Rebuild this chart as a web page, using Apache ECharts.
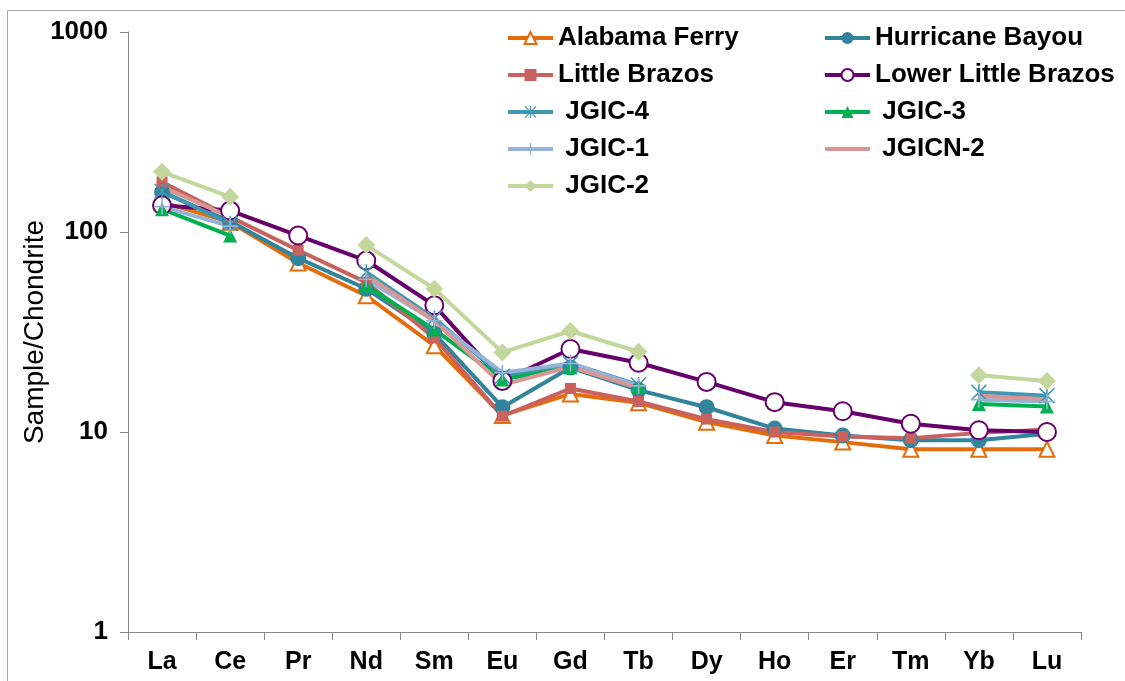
<!DOCTYPE html>
<html>
<head>
<meta charset="utf-8">
<script src="https://cdn.jsdelivr.net/npm/echarts@6/dist/echarts.min.js"></script>
<style>
html,body{margin:0;padding:0;background:#fff;}
#chart{width:1125px;height:681px;}
</style>
</head>
<body>
<div id="chart"></div>
<script>
const categories = ['La','Ce','Pr','Nd','Sm','Eu','Gd','Tb','Dy','Ho','Er','Tm','Yb','Lu'];
const yTicks = [1, 10, 100, 1000];

const alabamaFerry      = [141, 112, 70, 48, 27, 12.1, 15.5, 14.0, 11.2, 9.6, 8.9, 8.2, 8.2, 8.2];
const hurricaneBayou    = [158, 113, 74, 52, 31, 13.3, 21, 16.2, 13.3, 10.4, 9.6, 9.1, 9.1, 9.8];
const littleBrazos      = [178, 119, 81, 56, 29.5, 12.0, 16.5, 14.2, 11.6, 10.0, 9.5, 9.3, 9.9, 10.3];
const lowerLittleBrazos = [136, 128, 96, 72, 43, 18.0, 26, 22.2, 17.8, 14.1, 12.7, 11.0, 10.2, 10.0];
const jgic4  = [160, 110, null, 63, 37, 19.0, 22.0, 17.2, null, null, null, null, 15.8, 15.2];
const jgic3  = [130,  96, null, 54, 32.5, 18.3, 21.0, 17.0, null, null, null, null, 13.8, 13.4];
const jgic1  = [134, 107, null, 58, 36, 19.8, 22.0, 17.0, null, null, null, null, 14.5, 14.2];
const jgicn2 = [168, 119, null, 61, 36, 17.2, 21.2, 16.6, null, null, null, null, 15.2, 14.6];
const jgic2  = [200, 150, null, 86, 52, 25.0, 32.0, 25.2, null, null, null, null, 19.2, 18.0];

const FONT = '"Liberation Sans", Arial, sans-serif';
const starPath = 'path://M9,0 L11,0 L11,20 L9,20 Z M0,1.4 L1.4,0 L20,18.6 L18.6,20 Z M18.6,0 L20,1.4 L1.4,20 L0,18.6 Z';
const plusPath = 'path://M9,0 L11,0 L11,20 L9,20 Z M0,9 L20,9 L20,11 L0,11 Z';
const lineOnlyIcon = 'path://M0,5 L45,5 L45,9 L0,9 Z M22,0 L22.01,0 L22.01,0.01 Z M22,14 L22.01,14 L22.01,14.01 Z';

function mk(name, data, color, symbol, size, opts) {
  opts = opts || {};
  return {
    name: name,
    type: 'line',
    data: data,
    symbol: symbol,
    symbolSize: size,
    showSymbol: symbol !== 'none',
    connectNulls: false,
    lineStyle: {color: color, width: 4},
    itemStyle: Object.assign({color: color}, opts.item || {}),
    emphasis: {disabled: true}
  };
}

const series = [
  mk('Alabama Ferry', alabamaFerry, '#E46C0A', 'triangle', 15, {item: {color: '#fff', borderColor: '#E46C0A', borderWidth: 2}}),
  mk('Hurricane Bayou', hurricaneBayou, '#31849B', 'circle', 16),
  mk('Little Brazos', littleBrazos, '#C9625F', 'rect', 11),
  mk('Lower Little Brazos', lowerLittleBrazos, '#66006A', 'circle', 18, {item: {color: '#fff', borderColor: '#66006A', borderWidth: 2}}),
  mk(' JGIC-4', jgic4, '#3E98B4', starPath, 16),
  mk(' JGIC-3', jgic3, '#00B050', 'triangle', 14),
  mk(' JGIC-1', jgic1, '#95B3D7', plusPath, 16),
  mk(' JGICN-2', jgicn2, '#D99694', 'none', 0),
  mk(' JGIC-2', jgic2, '#C3D69B', 'diamond', 18)
];

const legendText = {fontSize: 26, fontWeight: 'bold', fontFamily: FONT, color: '#000', lineHeight: 30};
const legendCommon = {orient: 'vertical', top: 23, padding: 0, itemWidth: 45, itemHeight: 15, itemGap: 7,
  lineStyle: {width: 4}, textStyle: legendText};

const chart = echarts.init(document.getElementById('chart'));
chart.setOption({
  animation: false,
  backgroundColor: '#fff',
  graphic: [{
    type: 'rect',
    shape: {x: 7.5, y: 10.5, width: 1140, height: 700},
    style: {fill: 'none', stroke: '#a6a6a6', lineWidth: 1},
    silent: true
  }],
  grid: {left: 128, right: 44, top: 32, bottom: 49},
  legend: [
    Object.assign({left: 506, data: ['Alabama Ferry', 'Little Brazos', ' JGIC-4', ' JGIC-1', ' JGIC-2']}, legendCommon),
    Object.assign({left: 823, data: ['Hurricane Bayou', 'Lower Little Brazos', ' JGIC-3', {name: ' JGICN-2', icon: lineOnlyIcon}]}, legendCommon)
  ],
  xAxis: {
    type: 'category',
    data: categories,
    boundaryGap: true,
    axisLine: {lineStyle: {color: '#868686', width: 1}},
    axisTick: {show: true, length: 8, lineStyle: {color: '#868686'}},
    axisLabel: {fontSize: 25, fontWeight: 'bold', fontFamily: FONT, color: '#000', margin: 18}
  },
  yAxis: {
    type: 'log',
    logBase: 10,
    min: yTicks[0],
    max: yTicks[yTicks.length - 1],
    splitNumber: 3,
    name: 'Sample/Chondrite',
    nameLocation: 'middle',
    nameGap: 79,
    nameMoveOverlap: false,
    nameTextStyle: {fontSize: 28, fontFamily: FONT, color: '#000'},
    axisLine: {show: true, lineStyle: {color: '#868686', width: 1}},
    axisTick: {show: true, length: 8, lineStyle: {color: '#868686'}},
    splitLine: {show: false},
    minorTick: {show: false},
    axisLabel: {fontSize: 26, fontWeight: 'bold', fontFamily: FONT, color: '#000', margin: 20,
      formatter: function (v) { return String(Math.round(v)); }}
  },
  series: series
});
</script>
</body>
</html>
